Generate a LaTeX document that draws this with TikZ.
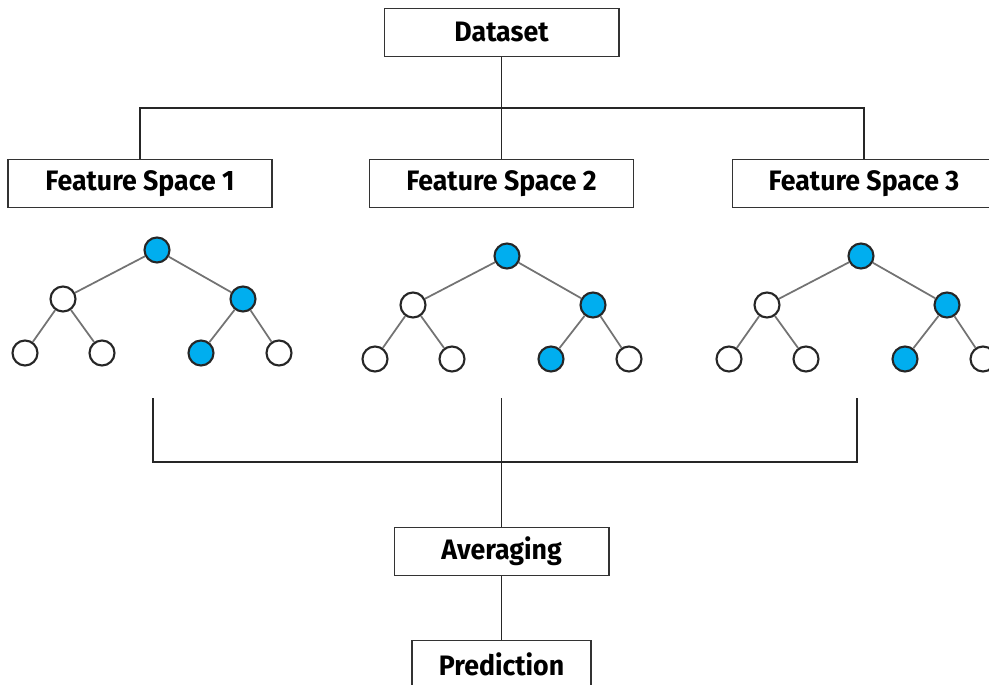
\documentclass[tikz,border=0pt]{standalone}
\usepackage{fontspec}
\setsansfont[FakeStretch=0.95]{Fira Sans}
\usetikzlibrary{positioning}
\definecolor{nodeblue}{RGB}{0,174,239}

\begin{document}
\begin{tikzpicture}[x=0.02cm, y=-0.02cm,
  every node/.style={font=\sffamily\bfseries\fontsize{16}{19}\selectfont},
  box/.style={draw=black!80, line width=0.6pt, fill=white, minimum height=0.96cm, inner sep=0pt},
  knot/.style={circle, draw=black!85, line width=1.2pt, minimum size=0.5cm, inner sep=0pt},
  hit/.style={knot, fill=nodeblue},
  miss/.style={knot, fill=white},
  link/.style={draw=black!55, line width=1pt},
  wire/.style={draw=black!85, line width=0.6pt}]
  \useasboundingbox (0,0) rectangle (989,685);

  \node[box, minimum width=4.7cm] (data) at (501.5,32.5) {Dataset};
  \node[box, minimum width=5.28cm] (fs1) at (140,183.5) {Feature Space 1};
  \node[box, minimum width=5.28cm] (fs2) at (501.5,183.5) {Feature Space 2};
  \node[box, minimum width=5.28cm] (fs3) at (864,183.5) {Feature Space 3};
  \node[box, minimum width=4.3cm] (avg) at (501.5,551.5) {Averaging};
  \node[box, minimum width=3.58cm] (pred) at (501.5,664.5) {Prediction};

  % split from the dataset
  \coordinate (bar) at (0,108);
  \draw[wire] (data.south) -- (data.south |- bar);
  \draw[wire] (fs1.north) -- (fs1.north |- bar) -- (fs3.north |- bar) -- (fs3.north);
  \draw[wire] (fs2.north) -- (fs2.north |- bar);

  % one tree per feature space
  \foreach \i/\x/\y in {1/157/250, 2/507/256, 3/861/256} {
    \node[hit] (r\i) at (\x,\y) {};
    \node[miss] (a\i) at (\x-94,\y+49) {};
    \node[hit] (b\i) at (\x+86,\y+49) {};
    \node[miss] (c\i) at (\x-132,\y+103) {};
    \node[miss] (d\i) at (\x-55,\y+103) {};
    \node[hit] (e\i) at (\x+44,\y+103) {};
    \node[miss] (f\i) at (\x+122,\y+103) {};
    \draw[link] (r\i) -- (a\i) (r\i) -- (b\i) (a\i) -- (c\i) (a\i) -- (d\i) (b\i) -- (e\i) (b\i) -- (f\i);
  }

  % merge into averaging
  \coordinate (s1) at (153,398);
  \coordinate (s2) at (501.5,398);
  \coordinate (s3) at (857,398);
  \coordinate (join) at (0,462);
  \draw[wire] (s1) -- (s1 |- join) -- (s3 |- join) -- (s3);
  \draw[wire] (s2) -- (avg.north);
  \draw[wire] (avg) -- (pred);
\end{tikzpicture}
\end{document}
